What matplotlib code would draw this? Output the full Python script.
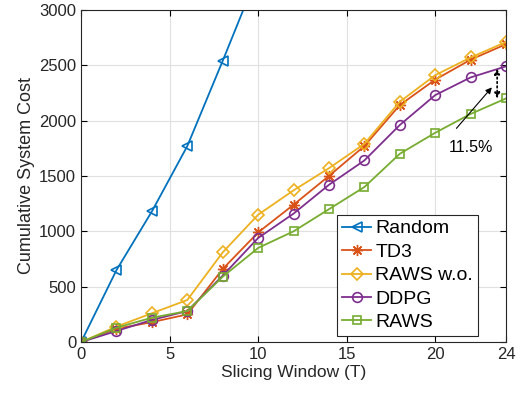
import matplotlib.pyplot as plt

# Data
x = [0, 2, 4, 6, 8, 10, 12, 14, 16, 18, 20, 22, 24]
x_random = [0, 2, 4, 6, 8, 10]
random_cost = [0, 650, 1180, 1770, 2540, 3330]
td3 = [0, 120, 180, 250, 660, 990, 1240, 1500, 1770, 2140, 2370, 2550, 2690]
raws_wo = [0, 140, 260, 380, 810, 1150, 1370, 1570, 1790, 2170, 2410, 2570, 2710]
ddpg = [0, 100, 200, 280, 600, 940, 1160, 1420, 1640, 1960, 2230, 2390, 2490]
raws = [0, 130, 220, 280, 590, 850, 1000, 1200, 1400, 1700, 1890, 2060, 2200]

plt.rcParams['font.family'] = ['Liberation Sans', 'DejaVu Sans']

fig = plt.figure(figsize=(5.23, 3.95), dpi=100)
ax = fig.add_axes([0.155, 0.134, 0.8125, 0.841])

mfc = 'none'
lw = 1.3
ax.plot(x_random, random_cost, '-<', color='#0072BD', mfc=mfc, ms=7.5, mew=1.2, lw=lw, label='Random')
ax.plot(x, td3, '-', marker=(8, 2, 0), color='#D95319', mfc=mfc, ms=8, mew=1.0, lw=lw, label='TD3')
ax.plot(x, raws_wo, '-D', color='#EDB120', mfc=mfc, ms=6.5, mew=1.2, lw=lw, label='RAWS w.o.')
ax.plot(x, ddpg, '-o', color='#7E2F8E', mfc=mfc, ms=7, mew=1.2, lw=lw, label='DDPG')
ax.plot(x, raws, '-s', color='#77AC30', mfc=mfc, ms=6, mew=1.2, lw=lw, label='RAWS')

# gap annotation
ax.annotate('', xy=(23.5, 2470), xytext=(23.5, 2200),
            arrowprops=dict(arrowstyle='<|-|>', linestyle=':', color='k', lw=1.2,
                            mutation_scale=8, shrinkA=0, shrinkB=0))
ax.annotate('', xy=(23.2, 2300), xytext=(21.2, 1930),
            arrowprops=dict(arrowstyle='-|>', color='k', lw=0.8, mutation_scale=9,
                            shrinkA=0, shrinkB=0))
ax.text(22.0, 1760, '11.5%', fontsize=11.5, ha='center', va='center')

ax.set_xlim(0, 24)
ax.set_ylim(0, 3000)
ax.set_xticks([0, 5, 10, 15, 20, 24])
ax.set_yticks([0, 500, 1000, 1500, 2000, 2500, 3000])
ax.tick_params(direction='in', labelsize=12, length=4, top=True, right=True,
               labelcolor='#262626')
ax.grid(True, color='#E0E0E0', lw=0.8)
ax.set_axisbelow(True)
for s in ax.spines.values():
    s.set_color('#262626')
    s.set_linewidth(0.8)

ax.set_xlabel('Slicing Window (T)', fontsize=12.5, color='#262626', labelpad=2)
ax.set_ylabel('Cumulative System Cost', fontsize=13, color='#262626', labelpad=3)

leg = ax.legend(loc='lower right', fontsize=14, handlelength=1.5, handletextpad=0.2,
                borderpad=0.25, labelspacing=0.3, borderaxespad=0, fancybox=False,
                framealpha=1, edgecolor='#262626', bbox_to_anchor=(0.934, 0.018))
leg.get_frame().set_linewidth(0.8)

fig.savefig('out.png', dpi=100)
